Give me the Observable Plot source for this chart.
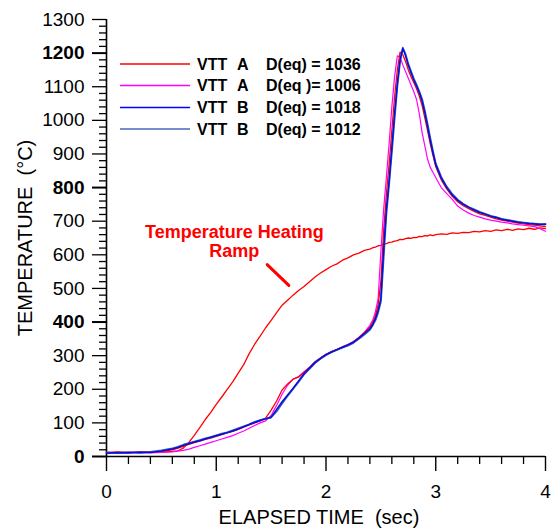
<!DOCTYPE html>
<html>
<head>
<meta charset="utf-8">
<script src="https://cdn.jsdelivr.net/npm/d3@7"></script>
<script src="https://cdn.jsdelivr.net/npm/@observablehq/plot@0.6"></script>
<style>
  html, body { margin: 0; padding: 0; background: #fff; }
  #chart { position: relative; width: 552px; height: 530px; }
  svg text { font-family: "Liberation Sans", Arial, sans-serif; }
</style>
</head>
<body>
<div id="chart"></div>
<script>
// ---- data ----
const time = [
  0, 0.1, 0.2, 0.3, 0.4, 0.5, 0.6,
  0.65, 0.7, 0.75, 0.8, 0.85, 0.9, 0.95, 1.0,
  1.05, 1.1, 1.15, 1.2, 1.25, 1.3, 1.35, 1.4,
  1.45, 1.5, 1.55, 1.6, 1.65, 1.7, 1.75, 1.8,
  1.85, 1.9, 1.95, 2.0, 2.05, 2.1, 2.15, 2.2,
  2.25, 2.3, 2.35, 2.4,
  2.425, 2.45, 2.475, 2.5, 2.525, 2.55, 2.575, 2.6,
  2.625, 2.65, 2.675, 2.7, 2.725, 2.75, 2.775, 2.8,
  2.825, 2.85, 2.875, 2.9, 2.925, 2.95, 2.975, 3.0,
  3.05, 3.1, 3.15, 3.2, 3.25, 3.3, 3.35, 3.4,
  3.45, 3.5, 3.55, 3.6, 3.65, 3.7, 3.75, 3.8,
  3.85, 3.9, 3.95, 4.0
];
const heatingRamp = [
  12, 13, 11, 14, 12, 13, 15,
  17, 25, 42, 63, 86, 110, 131, 155,
  177, 200, 222, 248, 273, 306, 334, 358,
  383, 405, 428, 450, 465, 480, 494, 506,
  520, 534, 546, 556, 566, 573, 584, 591,
  600, 605, 613, 617,
  621, 623, 627, 628, 632, 633, 637, 638,
  641, 642, 646, 645, 648, 650, 649, 652,
  651, 655, 654, 657, 656, 659, 657, 660,
  662, 661, 665, 664, 667, 666, 670, 668,
  672, 670, 674, 672, 676, 673, 677, 675,
  679, 676, 680, 678
];
const vttA1036 = [
  11, 13, 12, 12, 14, 15, 20,
  25, 30, 36, 41, 46, 51, 55, 60,
  65, 70, 75, 81, 87, 94, 100, 106,
  114, 138, 165, 198, 216, 230, 236, 250,
  265, 281, 293, 304, 312, 319, 326, 333,
  341, 354, 368, 385,
  398, 418, 450, 520, 670, 780, 870, 970,
  1070, 1150, 1203, 1195, 1175, 1150, 1130, 1112,
  1094, 1072, 1045, 1008, 970, 930, 895, 862,
  823, 796, 774, 758, 746, 737, 729, 722,
  717, 712, 707, 703, 700, 697, 694, 692,
  690, 688, 686, 684
];
const vttA1006 = [
  10, 11, 10, 12, 11, 12, 14,
  16, 18, 22, 27, 32, 37, 42, 47,
  52, 57, 62, 69, 76, 84, 92, 100,
  106, 122, 152, 185, 212, 230, 238, 252,
  266, 282, 293, 304, 312, 318, 326, 333,
  342, 354, 370, 390,
  405, 430, 470, 610, 735, 830, 930, 1040,
  1130, 1192, 1188, 1165, 1145, 1125, 1105, 1085,
  1062, 1020, 965, 925, 885, 860, 845, 830,
  800, 782, 765, 745, 733, 724, 717, 712,
  707, 703, 700, 697, 695, 692, 690, 688,
  686, 684, 678, 670
];
const vttB1018 = [
  10, 12, 11, 13, 12, 16, 22,
  27, 33, 38, 43, 47, 52, 57, 62,
  66, 71, 76, 82, 88, 95, 101, 107,
  112, 117, 140, 163, 183, 203, 225, 246,
  263, 280, 292, 303, 311, 318, 325, 332,
  340, 352, 366, 380,
  392, 410, 435, 470, 615, 735, 820, 920,
  1020, 1110, 1180, 1214, 1192, 1163, 1141, 1120,
  1102, 1082, 1058, 1022, 982, 940, 902, 868,
  828, 800, 778, 762, 750, 741, 733, 726,
  721, 715, 711, 706, 703, 700, 697, 695,
  693, 692, 690, 690
];
const vttB1012 = [
  12, 10, 13, 11, 14, 18, 24,
  29, 35, 40, 44, 49, 54, 58, 63,
  68, 72, 78, 84, 90, 96, 103, 108,
  113, 116, 134, 158, 180, 201, 222, 244,
  261, 278, 291, 301, 310, 317, 324, 330,
  338, 350, 363, 377,
  390, 405, 428, 460, 590, 720, 810, 905,
  1005, 1100, 1175, 1216, 1197, 1168, 1146, 1124,
  1106, 1086, 1064, 1030, 990, 948, 908, 872,
  832, 803, 781, 764, 752, 742, 735, 728,
  722, 716, 712, 707, 704, 701, 698, 696,
  694, 693, 691, 692
];

const xMajorTicks = [0, 1, 2, 3, 4];
const xMinorTicks = [0.2,0.4,0.6,0.8,1.2,1.4,1.6,1.8,2.2,2.4,2.6,2.8,3.2,3.4,3.6,3.8];
const yMajorTicks = [100, 200, 300, 500, 600, 700, 900, 1000, 1100, 1300];
const yBoldTicks = [0, 400, 800, 1200];
const yMinorTicks = d3.range(0, 1301, 20).filter(v => v % 100 !== 0);

const legendRows = [
  {line: "VTT", grade: "A", label: "D(eq) = 1036", color: "#ff0000"},
  {line: "VTT", grade: "A", label: "D(eq )= 1006", color: "#ff00ff"},
  {line: "VTT", grade: "B", label: "D(eq) = 1018", color: "#0000ff"},
  {line: "VTT", grade: "B", label: "D(eq) = 1012", color: "#4a66bb"}
];

const annotationText = [
  {t: 1.165, v: 668, label: "Temperature Heating"},
  {t: 1.165, v: 611, label: "Ramp"}
];
const annotationPointer = [{t1: 1.464, v1: 571, t2: 1.661, v2: 509}];

// ---- build ----
const series = [
  {values: heatingRamp, color: "#ff0000", w: 1.3},
  {values: vttA1006, color: "#ff00ff", w: 1.2},
  {values: vttA1036, color: "#ff0000", w: 1.3},
  {values: vttB1012, color: "#3a58b0", w: 1.8},
  {values: vttB1018, color: "#0010e0", w: 1.5}
];
const lineMarks = series.map(s =>
  Plot.line(time.map((t, i) => ({t, v: s.values[i]})), {
    x: "t", y: "v", stroke: s.color, strokeWidth: s.w, strokeLinejoin: "round"
  })
);

const fmt = d => String(d);
const chart = Plot.plot({
  width: 552,
  height: 530,
  marginLeft: 106,
  marginRight: 7,
  marginTop: 19,
  marginBottom: 74,
  style: {fontFamily: "'Liberation Sans', Arial, sans-serif", fontSize: "19px", color: "black", background: "white", overflow: "visible"},
  x: {domain: [0, 4]},
  y: {domain: [0, 1300]},
  marks: [
    Plot.axisX({ticks: xMajorTicks, tickFormat: fmt, tickSize: 15, tickPadding: 13, fontSize: 19, strokeWidth: 1.4, label: null}),
    Plot.axisX({ticks: xMinorTicks, tickSize: 8, tickFormat: () => "", strokeWidth: 1.3, label: null}),
    Plot.axisY({ticks: yMajorTicks, tickFormat: fmt, tickSize: 14, tickPadding: 8, fontSize: 19, strokeWidth: 1.3, label: null}),
    Plot.axisY({ticks: yBoldTicks, tickFormat: fmt, tickSize: 14, tickPadding: 8, fontSize: 19, fontWeight: "bold", strokeWidth: 2, label: null}),
    Plot.axisY({ticks: yMinorTicks, tickSize: 7, tickFormat: () => "", strokeWidth: 1.3, label: null}),
    Plot.ruleX([0], {y1: 0, y2: 1300, stroke: "black", strokeWidth: 1.6}),
    Plot.ruleY([0], {x1: 0, x2: 4, stroke: "black", strokeWidth: 1.6}),
    ...lineMarks,
    Plot.text(annotationText, {x: "t", y: "v", text: "label", fill: "#ff0000", fontSize: 18, fontWeight: "bold", textAnchor: "middle"}),
    Plot.link(annotationPointer, {x1: "t1", y1: "v1", x2: "t2", y2: "v2", stroke: "#ff0000", strokeWidth: 3, strokeLinecap: "round"})
  ]
});

document.getElementById("chart").appendChild(chart);

// axis titles
const svg = d3.select(chart);
svg.append("text")
  .attr("x", 319).attr("y", 524)
  .attr("text-anchor", "middle")
  .attr("font-size", 20)
  .attr("fill", "black")
  .style("white-space", "pre")
  .text("ELAPSED TIME  (sec)");
svg.append("text")
  .attr("transform", "translate(32,238) rotate(-90)")
  .attr("text-anchor", "middle")
  .attr("font-size", 20)
  .attr("fill", "black")
  .style("white-space", "pre")
  .text("TEMPERATURE  (°C)");

// legend
const lg = svg.append("g").attr("font-size", 16).attr("font-weight", "bold").attr("fill", "black").attr("text-anchor", "start");
const rowY = [64, 85.5, 107.5, 129];
legendRows.forEach((r, i) => {
  const y = rowY[i];
  lg.append("line").attr("x1", 120).attr("x2", 190).attr("y1", y).attr("y2", y)
    .attr("stroke", r.color).attr("stroke-width", 1.4);
  lg.append("text").attr("x", 197).attr("y", y + 5.6).attr("text-anchor", "start").text(r.line);
  lg.append("text").attr("x", 237).attr("y", y + 5.6).attr("text-anchor", "start").text(r.grade);
  lg.append("text").attr("x", 266).attr("y", y + 5.6).attr("text-anchor", "start").style("white-space", "pre").text(r.label);
});
</script>
</body>
</html>
